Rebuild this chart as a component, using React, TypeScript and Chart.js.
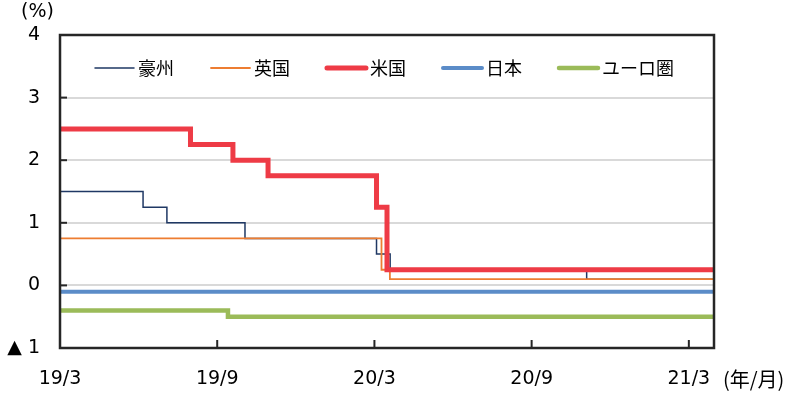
import React, { useEffect, useRef } from "react";
import { Chart, registerables } from "chart.js";

Chart.register(...registerables);

// x values = months elapsed since 2019/3
const END = 24.96;
const seriesNames = ["豪州", "英国", "米国", "日本", "ユーロ圏"];
const seriesColors = ["#1F3864", "#ED7D31", "#EE3B46", "#5B8CC8", "#9BBB59"];
const seriesWidths = [1.5, 1.8, 5, 4, 4.5];

const auMonths = [0, 3.17, 4.08, 7.06, 12.08, 12.6, 20.1, END];
const auRates = [1.5, 1.25, 1.0, 0.75, 0.5, 0.25, 0.1, 0.1];
const ukMonths = [0, 12.27, 12.59, END];
const ukRates = [0.75, 0.25, 0.1, 0.1];
const usMonths = [0, 4.98, 6.6, 7.94, 12.08, 12.48, END];
const usRates = [2.5, 2.25, 2.0, 1.75, 1.25, 0.25, 0.25];
const jpMonths = [0, END];
const jpRates = [-0.1, -0.1];
const euMonths = [0, 6.41, END];
const euRates = [-0.4, -0.5, -0.5];

const xTickValues = [0, 6, 12, 18, 24];
const xTickLabels = ["19/3", "19/9", "20/3", "20/9", "21/3"];
const yMin = -1;
const yMax = 4;
const yUnit = "(%)";
const xUnit = "(年/月)";

const FONT = "'DejaVu Sans', 'Noto Sans CJK JP', sans-serif";
const CJK = "'Noto Sans CJK JP', 'DejaVu Sans', sans-serif";

const toPoints = (xs: number[], ys: number[]) => xs.map((x, i) => ({ x, y: ys[i] }));

const extrasPlugin = {
  id: "extras",
  afterDatasetsDraw(chart: any) {
    const { ctx, chartArea } = chart;
    const { left, right, top, bottom } = chartArea;
    const xs = chart.scales.x;
    const ys = chart.scales.y;
    ctx.save();
    ctx.strokeStyle = "#262626";
    ctx.lineWidth = 2.5;
    ctx.strokeRect(left, top, right - left, bottom - top);
    ctx.lineWidth = 2;
    xTickValues.forEach((v) => {
      const px = xs.getPixelForValue(v);
      ctx.beginPath();
      ctx.moveTo(px, bottom);
      ctx.lineTo(px, bottom - 8);
      ctx.stroke();
    });
    for (let v = yMin + 1; v < yMax; v++) {
      const py = ys.getPixelForValue(v);
      ctx.beginPath();
      ctx.moveTo(left, py);
      ctx.lineTo(left + 7, py);
      ctx.stroke();
    }
    ctx.restore();
  },
  afterDraw(chart: any) {
    const { ctx, chartArea } = chart;
    const { left, top, bottom } = chartArea;
    ctx.save();
    ctx.font = `18px ${CJK}`;
    ctx.textBaseline = "middle";
    ctx.fillStyle = "#000";
    let x = left + 35;
    const ly = top + 33;
    chart.data.datasets.forEach((ds: any) => {
      ctx.strokeStyle = ds.borderColor;
      ctx.lineWidth = ds.borderWidth;
      ctx.lineCap = "round";
      ctx.beginPath();
      ctx.moveTo(x, ly);
      ctx.lineTo(x + 39, ly);
      ctx.stroke();
      x += 43;
      ctx.fillText(ds.label, x, ly);
      x += ctx.measureText(ds.label).width + 37;
    });
    ctx.textAlign = "left";
    ctx.font = `19px ${FONT}`;
    ctx.fillText(yUnit, 21, 12);
    ctx.font = `20px ${CJK}`;
    ctx.fillText(xUnit, 723, bottom + 31);
    ctx.restore();
  },
};

export default function App() {
  const ref = useRef<HTMLCanvasElement>(null);
  useEffect(() => {
    if (!ref.current) return;
    const monthSets = [auMonths, ukMonths, usMonths, jpMonths, euMonths];
    const rateSets = [auRates, ukRates, usRates, jpRates, euRates];
    const chart = new Chart(ref.current, {
      type: "line",
      data: {
        datasets: seriesNames.map((name, i) => ({
          label: name,
          data: toPoints(monthSets[i], rateSets[i]),
          borderColor: seriesColors[i],
          backgroundColor: seriesColors[i],
          borderWidth: seriesWidths[i],
          stepped: true,
          pointRadius: 0,
          fill: false,
          order: seriesNames.length - i,
        })),
      },
      options: {
        responsive: false,
        animation: false,
        layout: { padding: { top: 35, right: 79, left: 0, bottom: 0 } },
        plugins: { legend: { display: false }, tooltip: { enabled: false } },
        scales: {
          x: {
            type: "linear",
            min: 0,
            max: END,
            afterBuildTicks: (scale: any) => {
              scale.ticks = xTickValues.map((v) => ({ value: v }));
            },
            afterFit: (scale: any) => {
              scale.height = 48;
            },
            grid: { display: false, drawTicks: false },
            border: { display: false },
            ticks: {
              padding: 20,
              maxRotation: 0,
              autoSkip: false,
              color: "#000",
              font: { size: 19, family: FONT },
              callback: (v: any) => {
                const idx = xTickValues.indexOf(Number(v));
                return idx >= 0 ? xTickLabels[idx] : "";
              },
            },
          },
          y: {
            min: yMin,
            max: yMax,
            afterFit: (scale: any) => {
              scale.width = 60;
            },
            grid: {
              drawTicks: false,
              color: "#D9D9D9",
              lineWidth: 2,
            },
            border: { display: false },
            ticks: {
              stepSize: 1,
              padding: 20,
              color: "#000",
              font: { size: 19, family: FONT },
              callback: (v: any) => (Number(v) < 0 ? `▲ ${Math.abs(Number(v))}` : `${v}`),
            },
          },
        },
      },
      plugins: [extrasPlugin],
    });
    return () => chart.destroy();
  }, []);
  return (
    <div style={{ position: "absolute", left: 0, top: 0, width: 793, height: 396, background: "#fff" }}>
      <canvas ref={ref} width={793} height={396} style={{ display: "block" }} />
    </div>
  );
}
